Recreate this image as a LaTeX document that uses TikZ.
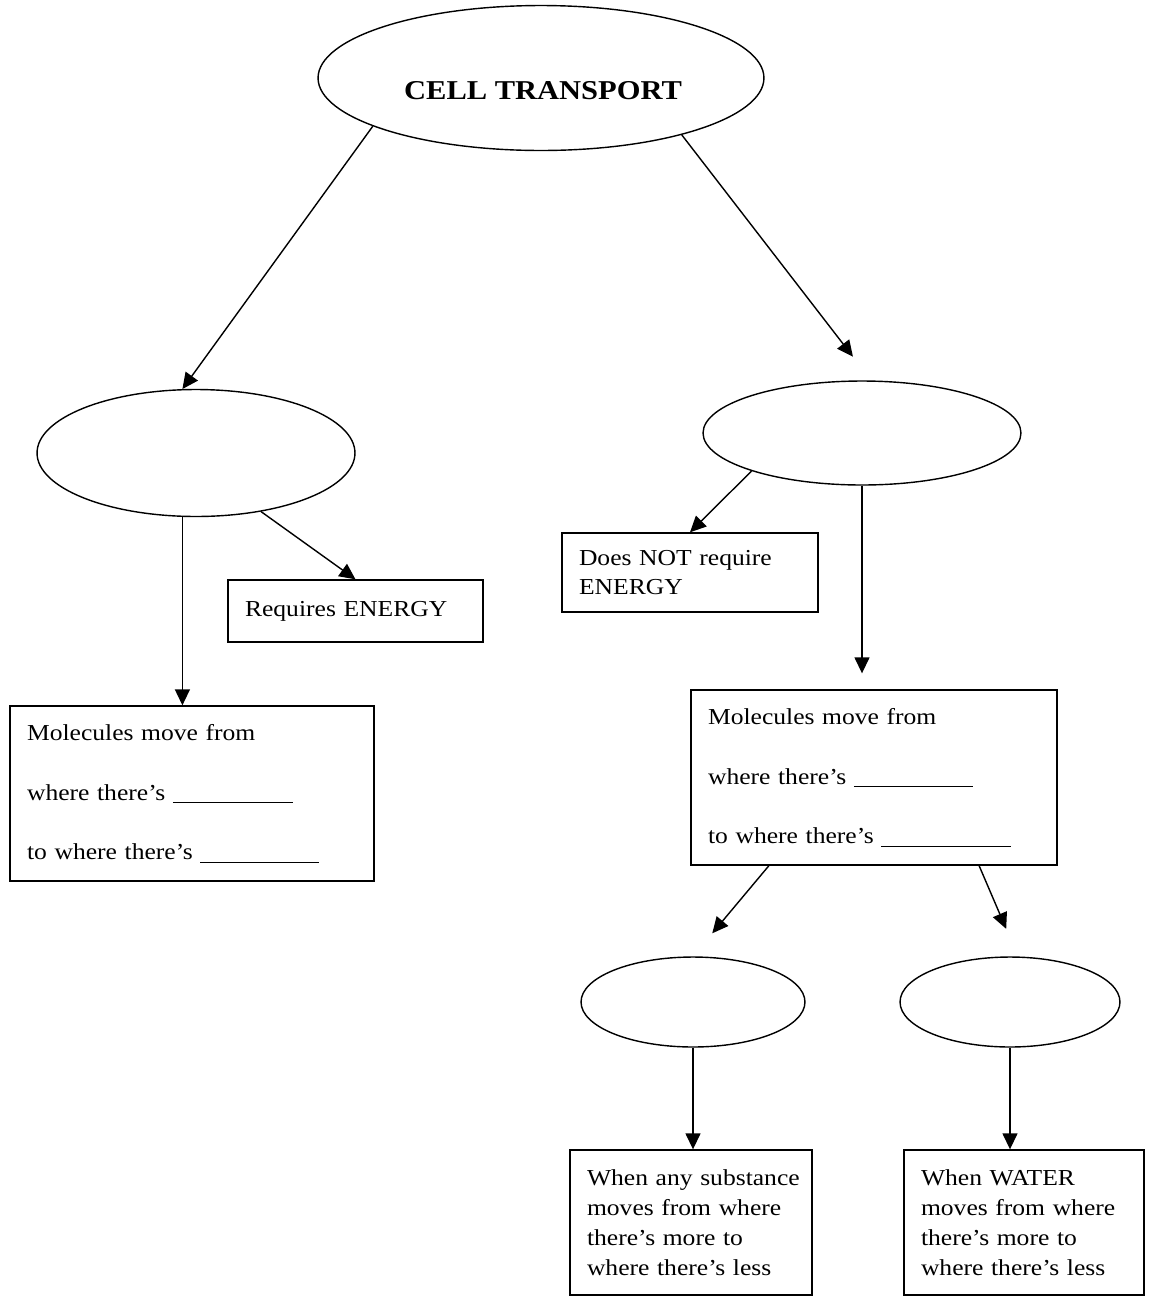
\documentclass[tikz,border=0pt]{standalone}
\usepackage{fontspec}
\setmainfont{Liberation Serif}[FakeStretch=1.12]
\usetikzlibrary{arrows.meta, shapes.geometric}
\hyphenpenalty=10000
\hbadness=10000

\tikzset{
  oval/.style={draw, ellipse, line width=0.8pt},
  box/.style={draw, rectangle, line width=0.8pt, align=left, inner xsep=0.34cm, inner ysep=0pt,
    font=\fontsize{13}{17}\selectfont},
  link/.style={-{Triangle[length=0.32cm,width=0.3cm]}, line width=0.8pt},
}
\newcommand{\blank}[1]{\rule[-0.06cm]{#1}{0.5pt}}

\begin{document}
\begin{tikzpicture}[x=0.02cm, y=-0.02cm]
  \useasboundingbox (0,0) rectangle (1154,1296);
  % Ovals
  \node[oval, minimum width=8.92cm, minimum height=2.9cm] (top) at (541,78) {};
  \node[font=\fontsize{15.5}{17}\selectfont\bfseries] (title) at (543,91) {CELL TRANSPORT};
  \node[oval, minimum width=6.36cm, minimum height=2.54cm] (mleft) at (196,453) {};
  \node[oval, minimum width=6.36cm, minimum height=2.08cm] (mright) at (862,433) {};
  \node[oval, minimum width=4.48cm, minimum height=1.8cm] (lowl) at (693,1002) {};
  \node[oval, minimum width=4.40cm, minimum height=1.8cm] (lowr) at (1010,1002) {};
  % Boxes
  \node[box, text width=4.42cm, minimum height=1.24cm] (energy) at (355.5,611) {Requires ENERGY};
  \node[box, text width=4.44cm, minimum height=1.58cm] (noenergy) at (690,572.5) {Does NOT require\\ENERGY};
  \node[box, text width=6.60cm, minimum height=3.5cm] (lbox) at (192,793.5)
    {Molecules move from\\[0.6cm]where there's \blank{2.4cm}\\[0.6cm]to where there's \blank{2.38cm}};
  \node[box, text width=6.64cm, minimum height=3.5cm] (rbox) at (874,777.5)
    {Molecules move from\\[0.6cm]where there's \blank{2.38cm}\\[0.6cm]to where there's \blank{2.6cm}};
  \node[box, text width=4.16cm, minimum height=2.9cm] (bl) at (691,1222.5)
    {\mbox{When any substance}\\moves from where\\there's more to\\where there's less};
  \node[box, text width=4.12cm, minimum height=2.9cm] (br) at (1024,1222.5)
    {When WATER\\moves from where\\there's more to\\where there's less};
  % Arrows
  \draw[link] (top.196) -- (mleft.102);
  \draw[link, shorten >=0.6cm] (top.338) -- (mright.80);
  \draw[link] (mleft.258) -- (mleft.258 |- lbox.north);
  \draw[link] (mleft.318) -- (energy.north);
  \draw[link] (mright.199) -- (noenergy.north);
  \draw[link, shorten >=0.32cm] (mright.south) -- (mright.south |- rbox.north);
  \draw[link, shorten >=0.6cm] (rbox.220) -- (lowl.north);
  \draw[link, shorten >=0.6cm] (rbox.320) -- (lowr.80);
  \draw[link] (lowl.south) -- (lowl.south |- bl.north);
  \draw[link] (lowr.south) -- (lowr.south |- br.north);
\end{tikzpicture}
\end{document}
